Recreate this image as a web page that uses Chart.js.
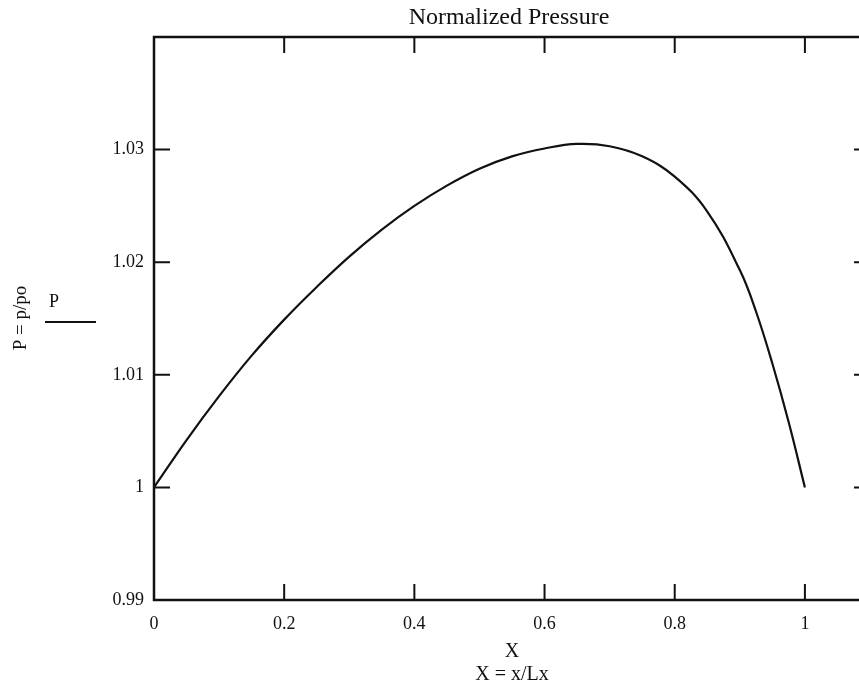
<!DOCTYPE html>
<html>
<head>
<meta charset="utf-8">
<title>Normalized Pressure</title>
<script src="https://cdn.jsdelivr.net/npm/chart.js@4/dist/chart.umd.min.js"></script>
<style>
  html, body { margin: 0; padding: 0; background: #fff; overflow: hidden; }
  #wrap { position: relative; width: 880px; height: 684px; }
</style>
</head>
<body>
<div id="wrap"><canvas id="pressureChart"></canvas></div>
<script>
// valores
const xValues = [0, 0.05, 0.1, 0.15, 0.2, 0.25, 0.3, 0.35, 0.4, 0.45, 0.5, 0.55, 0.6, 0.65, 0.7, 0.75, 0.8, 0.85, 0.9, 0.925, 0.95, 0.975, 1];
const pValues = [1.0000, 1.0042, 1.0081, 1.0117, 1.0149, 1.0178, 1.0205, 1.0229, 1.0250, 1.0268, 1.0283, 1.0294, 1.0301, 1.0305, 1.0303, 1.0294, 1.0276, 1.0245, 1.0193, 1.0156, 1.0110, 1.0058, 1.0000];
const xTickValues = [0, 0.2, 0.4, 0.6, 0.8, 1];
const yTickValues = [0.99, 1, 1.01, 1.02, 1.03];

const serif = '"Liberation Serif", "DejaVu Serif", serif';
const ink = '#111';

function fmt(v) {
    return String(+v.toFixed(2));
}

// moldura, marcas internas e textos
const framePlugin = {
    id: 'frame',
    afterDraw(chart) {
        const { ctx, chartArea: a, scales } = chart;
        const tick = 16;
        ctx.save();
        ctx.strokeStyle = ink;
        ctx.lineWidth = 2.5;
        ctx.strokeRect(a.left, a.top, a.right - a.left, a.bottom - a.top);

        ctx.lineWidth = 2;
        ctx.beginPath();
        xTickValues.forEach(v => {
            const px = scales.x.getPixelForValue(v);
            ctx.moveTo(px, a.bottom); ctx.lineTo(px, a.bottom - tick);
            ctx.moveTo(px, a.top); ctx.lineTo(px, a.top + tick);
        });
        yTickValues.forEach(v => {
            const py = scales.y.getPixelForValue(v);
            ctx.moveTo(a.left, py); ctx.lineTo(a.left + tick, py);
            ctx.moveTo(a.right, py); ctx.lineTo(a.right - tick, py);
        });
        ctx.stroke();

        ctx.fillStyle = ink;
        ctx.textAlign = 'center';
        ctx.textBaseline = 'middle';

        ctx.font = '24px ' + serif;
        ctx.fillText('Normalized Pressure', 509, 18);

        ctx.font = '20px ' + serif;
        ctx.fillText('X', 512, 652);
        ctx.fillText('X = x/Lx', 512, 675);

        // legenda do traço
        ctx.font = '18px ' + serif;
        ctx.fillText('P', 54, 302);
        ctx.lineWidth = 2;
        ctx.beginPath();
        ctx.moveTo(45, 322); ctx.lineTo(96, 322);
        ctx.stroke();

        ctx.save();
        ctx.translate(21, 318);
        ctx.rotate(-Math.PI / 2);
        ctx.font = '19px ' + serif;
        ctx.fillText('P = p/po', 0, 0);
        ctx.restore();

        ctx.restore();
    }
};

function criarGrafico() {
    const ctx = document.getElementById('pressureChart').getContext('2d');
    new Chart(ctx, {
        type: 'line',
        data: {
            datasets: [{
                label: 'P',
                data: xValues.map((x, i) => ({ x: x, y: pValues[i] })),
                borderColor: ink,
                borderWidth: 2.2,
                pointRadius: 0,
                fill: false,
                tension: 0.4
            }]
        },
        options: {
            responsive: true,
            maintainAspectRatio: false,
            animation: false,
            layout: { padding: { top: 37, right: 10, left: 0, bottom: 0 } },
            plugins: {
                legend: { display: false },
                tooltip: { enabled: false }
            },
            scales: {
                x: {
                    type: 'linear',
                    min: 0,
                    max: 1.1,
                    afterBuildTicks: s => { s.ticks = xTickValues.map(v => ({ value: v })); },
                    afterFit: s => { s.height = 84; },
                    grid: { display: false, drawTicks: false },
                    border: { display: false },
                    ticks: {
                        padding: 13,
                        color: ink,
                        font: { family: serif, size: 18 },
                        callback: v => fmt(v),
                        maxRotation: 0
                    }
                },
                y: {
                    min: 0.99,
                    max: 1.04,
                    afterBuildTicks: s => { s.ticks = yTickValues.map(v => ({ value: v })); },
                    afterFit: s => { s.width = 154; },
                    grid: { display: false, drawTicks: false },
                    border: { display: false },
                    ticks: {
                        padding: 10,
                        color: ink,
                        font: { family: serif, size: 18 },
                        callback: v => fmt(v)
                    }
                }
            }
        },
        plugins: [framePlugin]
    });
}

document.addEventListener('DOMContentLoaded', criarGrafico);
</script>
</body>
</html>
